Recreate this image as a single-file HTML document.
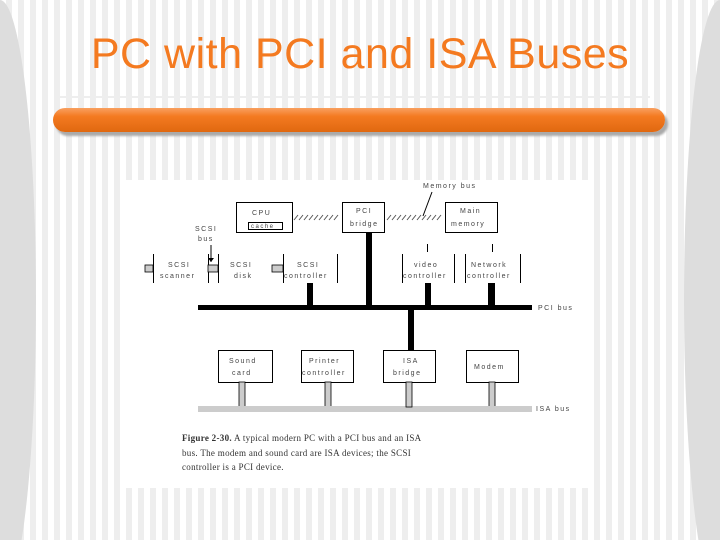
<!DOCTYPE html>
<html><head><style>
body{margin:0;width:720px;height:540px;overflow:hidden;position:relative;font-family:"Liberation Sans",sans-serif;
background:repeating-linear-gradient(90deg,#fff 0,#fff 6px,#eeeeee 6px,#eeeeee 12px);}
.t{position:absolute;left:0;width:720px;top:30px;text-align:center;color:#f47a20;font-size:43px;letter-spacing:0.5px;}
.bar{position:absolute;left:53px;top:108px;width:612px;height:24px;border-radius:12px;background:linear-gradient(#f9a060,#f47a20 35%,#e06810);box-shadow:3px 4px 2px #aaa;}
.fig{position:absolute;left:126px;top:180px;width:467px;height:308px;background:#fff;}
</style></head><body>
<div style="position:absolute;left:0;top:0;width:36px;height:540px;background:#ddd;clip-path:ellipse(36px 300px at 0 300px)"></div>
<div style="position:absolute;left:684px;top:0;width:36px;height:540px;background:#ddd;clip-path:ellipse(36px 300px at 36px 300px)"></div>
<div class="t">PC with PCI and ISA Buses</div>
<div style="position:absolute;left:60px;top:96px;width:590px;height:2px;background:#eee"></div>
<div class="bar"></div>
<div class="fig"></div>
<svg style="position:absolute;left:0;top:0" width="720" height="540" font-family="Liberation Sans" font-size="7" fill="#444" letter-spacing="1.5">
<g fill="none" stroke="#000" stroke-width="1">
<rect x="236.5" y="202.5" width="56" height="30"/><rect x="248.5" y="222.5" width="34" height="7"/>
<rect x="342.5" y="202.5" width="42" height="30"/>
<rect x="445.5" y="202.5" width="52" height="30"/>
<path d="M153.5 254v29M208.5 254v29M218.5 254v29M283.5 254v29M337.5 254v29M402.5 254v29M454.5 254v29M465.5 254v29M520.5 254v29M427.5 244v8M492.5 244v8"/>
<path d="M294 220l4-5M299 220l4-5M304 220l4-5M309 220l4-5M314 220l4-5M319 220l4-5M324 220l4-5M329 220l4-5M334 220l4-5" stroke="#555"/>
<path d="M387 220l4-5M392 220l4-5M397 220l4-5M402 220l4-5M407 220l4-5M412 220l4-5M417 220l4-5M422 220l4-5M427 220l4-5M432 220l4-5M437 220l4-5" stroke="#555"/>
<path d="M432 192l-9 24M211 245v17"/>
<rect x="218.5" y="350.5" width="54" height="32"/><rect x="301.5" y="350.5" width="52" height="32"/>
<rect x="383.5" y="350.5" width="52" height="32"/><rect x="466.5" y="350.5" width="52" height="32"/>
</g>
<g fill="#ccc" stroke="#000" stroke-width="0.8">
<rect x="145" y="265" width="8" height="7"/><rect x="208" y="265" width="10" height="7"/><rect x="272" y="265" width="11" height="7"/>
<rect x="239" y="382" width="6" height="25"/><rect x="325" y="382" width="6" height="25"/><rect x="489" y="382" width="6" height="25"/>
</g>
<rect x="198" y="406" width="334" height="6" fill="#ccc"/>
<rect x="406" y="382" width="6" height="25" fill="#ccc" stroke="#000" stroke-width="0.8"/>
<g fill="#000">
<rect x="366" y="232" width="6" height="74"/><rect x="198" y="305" width="334" height="5"/>
<rect x="307" y="283" width="6" height="23"/><rect x="425" y="283" width="6" height="23"/><rect x="488" y="283" width="7" height="23"/>
<rect x="408" y="310" width="6" height="40"/>
<path d="M208 258h6l-3 4z"/>
</g>
<text x="252" y="215">CPU</text><text x="251" y="228" font-size="6">cache</text>
<text x="356" y="213">PCI</text><text x="350" y="226">bridge</text>
<text x="460" y="213">Main</text><text x="451" y="226">memory</text>
<text x="423" y="188">Memory bus</text>
<text x="195" y="231">SCSI</text><text x="198" y="241">bus</text>
<text x="168" y="267">SCSI</text><text x="160" y="278">scanner</text>
<text x="230" y="267">SCSI</text><text x="234" y="278">disk</text>
<text x="297" y="267">SCSI</text><text x="284" y="278">controller</text>
<text x="414" y="267">video</text><text x="403" y="278">controller</text>
<text x="471" y="267">Network</text><text x="467" y="278">controller</text>
<text x="538" y="310">PCI bus</text>
<text x="229" y="363">Sound</text><text x="232" y="375">card</text>
<text x="309" y="363">Printer</text><text x="302" y="375">controller</text>
<text x="403" y="363">ISA</text><text x="393" y="375">bridge</text>
<text x="474" y="369">Modem</text>
<text x="536" y="411">ISA bus</text>
<g letter-spacing="0.3" font-size="9" fill="#333">
<text x="182" y="441" font-family="Liberation Serif"><tspan font-weight="bold">Figure 2-30.</tspan> A typical modern PC with a PCI bus and an ISA</text>
<text x="182" y="456" font-family="Liberation Serif">bus. The modem and sound card are ISA devices; the SCSI</text>
<text x="182" y="470" font-family="Liberation Serif">controller is a PCI device.</text>
</g>
</svg>
</body></html>
